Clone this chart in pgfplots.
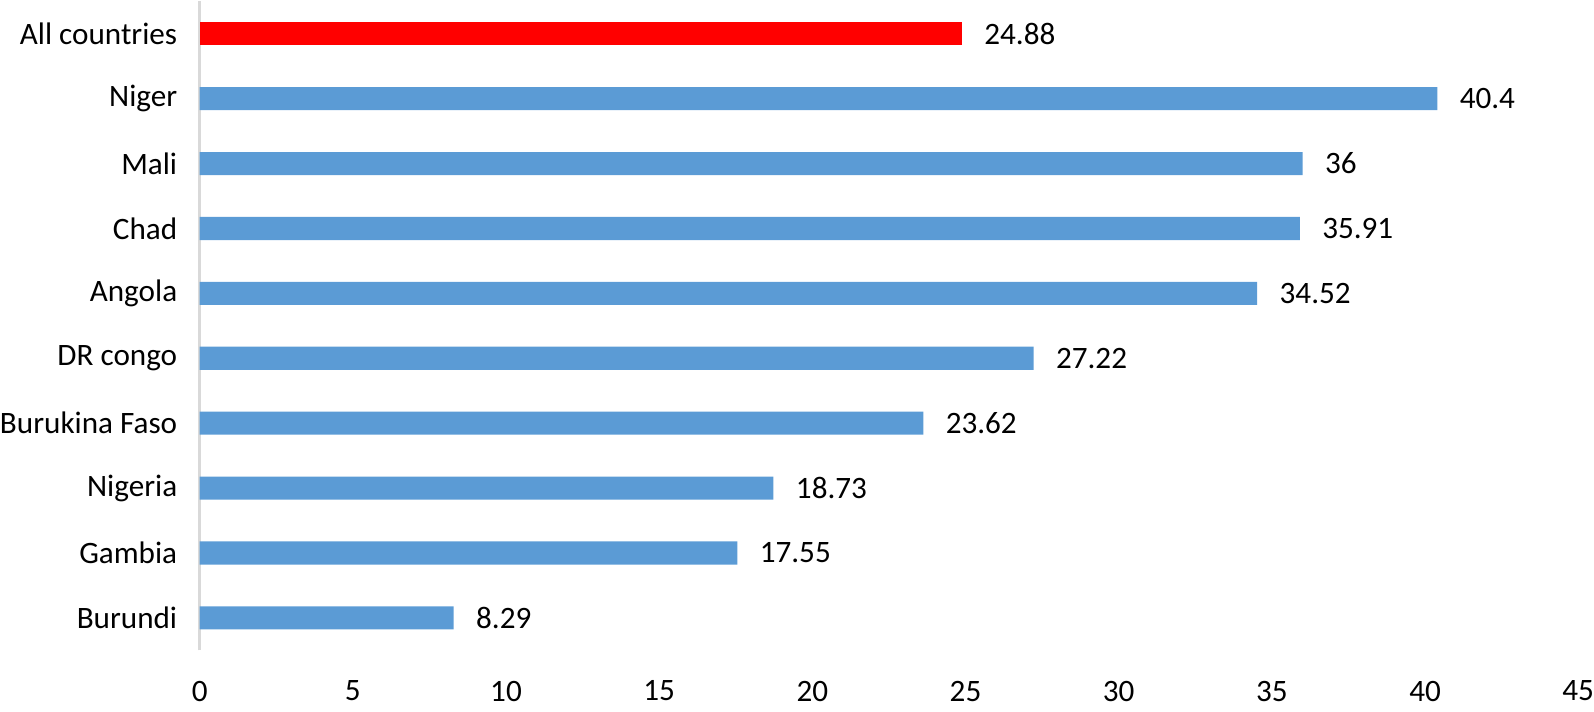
\documentclass[border=0pt]{standalone}
\usepackage{fontspec}
\setmainfont{Carlito}
\usepackage{pgfplots}
\pgfplotsset{compat=1.18}
\definecolor{barblue}{HTML}{5B9BD5}
\definecolor{barred}{HTML}{FF0000}
\definecolor{axisgray}{HTML}{D9D9D9}

\begin{document}
\begin{tikzpicture}
  \begin{axis}[
      xbar,
      scale only axis,
      width=686pt, height=323pt,
      xmin=0, xmax=45,
      ymin=-0.5, ymax=9.5,
      bar width=11.5pt,
      bar shift=0pt,
      xtick={0,5,...,45},
      ytick={0,...,9},
      yticklabels={Burundi,Gambia,Nigeria,Burukina Faso,DR congo,Angola,Chad,Mali,Niger,All countries},
      /pgf/number format/assume math mode=true,
      major tick length=0pt,
      axis lines=left,
      axis line style={-},
      x axis line style={draw=none},
      y axis line style={draw=axisgray, line width=1.3pt},
      tick label style={font=\fontsize{15.5}{18}\selectfont, inner sep=0pt},
      yticklabel style={anchor=east, xshift=-11pt},
      xticklabel style={anchor=north, yshift=-15pt, text depth=5pt},
      nodes near coords,
      nodes near coords style={font=\fontsize{15.5}{18}\selectfont, anchor=west, inner sep=0pt, xshift=11pt, text=black},
      clip=false,
    ]
    \addplot[fill=barblue, draw=none] coordinates {
      (8.29,0) (17.55,1) (18.73,2) (23.62,3) (27.22,4)
      (34.52,5) (35.91,6) (36,7) (40.4,8)};
    \addplot[fill=barred, draw=none] coordinates {(24.88,9)};
  \end{axis}
\end{tikzpicture}
\end{document}
